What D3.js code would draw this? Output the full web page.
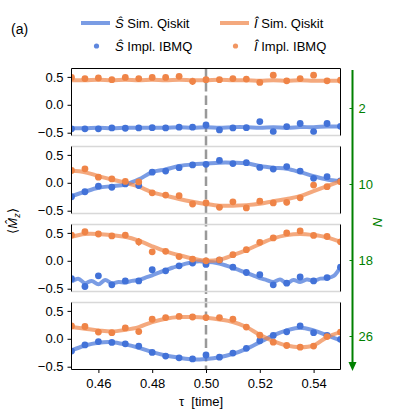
<!DOCTYPE html>
<html>
<head>
<meta charset="utf-8">
<script src="https://cdn.jsdelivr.net/npm/d3@7"></script>
<style>
  body { margin: 0; background: #fff; }
  svg { font-family: "Liberation Sans", Arial, sans-serif; }
</style>
</head>
<body>
<svg id="chart" width="396" height="419"></svg>
<script>
// time grid of the IBMQ points and of the simulation curves
var tauPts = [0.45,0.455,0.46,0.465,0.47,0.475,0.48,0.485,0.49,0.495,0.50,0.505,0.51,0.515,0.52,0.525,0.53,0.535,0.54,0.545,0.55];
var tauFine = [0.45,0.4525,0.455,0.4575,0.46,0.4625,0.465,0.4675,0.47,0.4725,0.475,0.4775,0.48,0.4825,0.485,0.4875,0.49,0.4925,0.495,0.4975,
               0.50,0.5025,0.505,0.5075,0.51,0.5125,0.515,0.5175,0.52,0.5225,0.525,0.5275,0.53,0.5325,0.535,0.5375,0.54,0.5425,0.545,0.5475,0.55];
var xTicks = [0.46,0.48,0.50,0.52,0.54];
var yTicks = [-0.5,0,0.5];
var nLabels = [2,10,18,26];

// N = 2
var simS_N2 = [-0.42,-0.42,-0.41,-0.42,-0.41,-0.41,-0.41,-0.41,-0.40,-0.41,-0.40,-0.41,-0.40,-0.40,-0.41,-0.40,-0.41,-0.40,-0.40,-0.39,-0.39];
var simI_N2 = [0.44,0.44,0.45,0.44,0.45,0.44,0.45,0.44,0.45,0.44,0.44,0.45,0.44,0.44,0.43,0.44,0.43,0.44,0.43,0.43,0.43];
var ibmS_N2 = [-0.43,-0.43,-0.43,-0.415,-0.42,-0.415,-0.41,-0.415,-0.40,-0.40,-0.36,-0.45,-0.415,-0.41,-0.30,-0.48,-0.39,-0.335,-0.48,-0.335,-0.385];
var ibmI_N2 = [0.49,0.47,0.48,0.45,0.49,0.47,0.49,0.49,0.51,0.42,0.45,0.45,0.47,0.46,0.40,0.53,0.43,0.47,0.53,0.43,0.44];
// N = 10
var simS_N10 = [-0.24,-0.16,-0.09,-0.06,-0.03,0.06,0.19,0.24,0.30,0.33,0.345,0.36,0.36,0.35,0.30,0.27,0.25,0.19,0.12,0.06,0.03];
var simI_N10 = [0.22,0.19,0.12,0.06,0.0,-0.07,-0.17,-0.23,-0.29,-0.34,-0.38,-0.41,-0.41,-0.40,-0.375,-0.33,-0.29,-0.24,-0.15,-0.06,0.03];
var ibmS_N10 = [-0.25,-0.16,-0.06,-0.08,-0.02,-0.05,0.19,0.21,0.27,0.32,0.33,0.40,0.345,0.36,0.275,0.245,0.29,0.21,0.08,0.11,0.035];
var ibmI_N10 = [0.22,0.25,0.10,0.07,0.025,0.015,-0.18,-0.22,-0.23,-0.38,-0.36,-0.44,-0.34,-0.45,-0.33,-0.36,-0.35,-0.27,-0.04,-0.07,0.02];
// N = 18
var simS_N18 = [-0.375,-0.32,-0.40,-0.36,-0.42,-0.345,-0.40,-0.38,-0.39,-0.36,-0.345,-0.30,-0.26,-0.21,-0.17,-0.125,-0.09,-0.05,-0.025,-0.01,
                -0.02,-0.025,-0.05,-0.085,-0.125,-0.17,-0.215,-0.26,-0.31,-0.345,-0.38,-0.335,-0.40,-0.345,-0.38,-0.335,-0.36,-0.32,-0.31,-0.27,-0.11];
var simI_N18 = [0.43,0.48,0.48,0.46,0.43,0.36,0.26,0.17,0.10,0.04,0.0,0.02,0.10,0.19,0.30,0.40,0.46,0.48,0.46,0.42,0.34];
var ibmS_N18 = [-0.32,-0.46,-0.27,-0.43,-0.36,-0.36,-0.16,-0.18,-0.09,-0.04,-0.065,0.01,-0.115,-0.21,-0.25,-0.43,-0.40,-0.29,-0.36,-0.30,-0.115];
var ibmI_N18 = [0.46,0.52,0.48,0.445,0.46,0.34,0.16,0.17,0.075,0.03,0.0,0.015,0.11,0.20,0.33,0.41,0.50,0.535,0.455,0.435,0.34];
// N = 26
var simS_N26 = [-0.21,-0.12,-0.07,-0.06,-0.10,-0.16,-0.24,-0.30,-0.34,-0.37,-0.36,-0.33,-0.27,-0.18,-0.06,0.06,0.15,0.20,0.15,0.06,-0.03];
var simI_N26 = [0.21,0.18,0.15,0.13,0.16,0.21,0.30,0.36,0.39,0.39,0.375,0.345,0.30,0.21,0.07,-0.04,-0.12,-0.15,-0.12,0.03,0.12];
var ibmS_N26 = [-0.22,-0.11,-0.05,-0.065,-0.09,-0.13,-0.245,-0.31,-0.34,-0.36,-0.29,-0.33,-0.255,-0.17,-0.035,0.06,0.125,0.23,0.11,0.06,-0.01];
var ibmI_N26 = [0.23,0.22,0.12,0.11,0.195,0.13,0.35,0.38,0.40,0.39,0.38,0.38,0.35,0.21,0.065,-0.06,-0.12,-0.15,-0.13,0.04,0.12];

// the error bars that stick out of the markers: [panel, series, index, error]
var errBars = [[0,'I',9,0.065],[1,'I',16,0.05],[2,'I',5,0.07],[2,'I',19,0.05],[2,'S',2,0.05],[1,'S',11,0.03]];

var panels = [
  {simS: simS_N2,  simI: simI_N2,  ibmS: ibmS_N2,  ibmI: ibmI_N2},
  {simS: simS_N10, simI: simI_N10, ibmS: ibmS_N10, ibmI: ibmI_N10},
  {simS: simS_N18, simI: simI_N18, ibmS: ibmS_N18, ibmI: ibmI_N18},
  {simS: simS_N26, simI: simI_N26, ibmS: ibmS_N26, ibmI: ibmI_N26}
];

var blue = '#4272d8';
var orange = '#ef8447';
var panelH = 67;
var panelStep = 78;
var firstTop = 68.5;
var lastBottom = firstTop + 3 * panelStep + panelH;

var svg = d3.select('#chart');

var x = d3.scaleLinear()
    .domain([0.45, 0.55])
    .range([71.5, 340.5]);

// dashed line at tau = 0.5 through all panels
svg.append('line')
    .attr('x1', x(0.5)).attr('x2', x(0.5))
    .attr('y1', firstTop).attr('y2', lastBottom)
    .attr('stroke', '#999')
    .attr('stroke-width', 2.5)
    .attr('stroke-dasharray', '9.5,4');

panels.forEach(function(p, k){
    var top = firstTop + k * panelStep;
    var y = d3.scaleLinear()
        .domain([-0.55, 0.65])
        .range([top + panelH, top]);

    svg.append('clipPath').attr('id', 'clip' + k)
        .append('rect')
        .attr('x', x.range()[0]).attr('y', top)
        .attr('width', x.range()[1] - x.range()[0]).attr('height', panelH);

    var g = svg.append('g').attr('clip-path', 'url(#clip' + k + ')');

    var line = d3.line()
        .x(function(d){ return x(d[0]) })
        .y(function(d){ return y(d[1]) })
        .curve(d3.curveCatmullRom);

    function pairs(arr){
        var taus = arr.length == tauFine.length ? tauFine : tauPts;
        return arr.map(function(v, i){ return [taus[i], v] });
    }

    [[p.simS, blue], [p.simI, orange]].forEach(function(s){
        g.append('path')
            .datum(pairs(s[0]))
            .attr('d', line)
            .attr('fill', 'none')
            .attr('stroke', s[1])
            .attr('stroke-opacity', 0.7)
            .attr('stroke-width', 4)
            .attr('stroke-linejoin', 'round');
    });

    // error bars
    errBars.filter(function(e){ return e[0] == k }).forEach(function(e){
        var v = e[1] == 'S' ? p.ibmS[e[2]] : p.ibmI[e[2]];
        g.append('line')
            .attr('x1', x(tauPts[e[2]])).attr('x2', x(tauPts[e[2]]))
            .attr('y1', y(v - e[3])).attr('y2', y(v + e[3]))
            .attr('stroke', e[1] == 'S' ? blue : orange)
            .attr('stroke-width', 1.5);
    });

    [[p.ibmS, blue], [p.ibmI, orange]].forEach(function(s){
        g.append('g').selectAll('circle')
            .data(s[0])
            .enter()
            .append('circle')
            .attr('cx', function(d, i){ return x(tauPts[i]) })
            .attr('cy', function(d){ return y(d) })
            .attr('r', 3.4)
            .attr('fill', s[1]);
    });

    // frame: black sides, light grey top/bottom between panels
    var x0 = x.range()[0], x1 = x.range()[1];
    svg.append('line').attr('x1', x0).attr('x2', x1).attr('y1', top).attr('y2', top)
        .attr('stroke', k == 0 ? '#000' : '#d8d8d8').attr('stroke-width', k == 0 ? 1 : 1.5);
    svg.append('line').attr('x1', x0).attr('x2', x1).attr('y1', top + panelH).attr('y2', top + panelH)
        .attr('stroke', k == 3 ? '#000' : '#d8d8d8').attr('stroke-width', k == 3 ? 1 : 1.5);
    [x0, x1].forEach(function(xx){
        svg.append('line').attr('x1', xx).attr('x2', xx).attr('y1', top).attr('y2', top + panelH)
            .attr('stroke', '#000').attr('stroke-width', 1);
    });

    var yAxis = svg.append('g')
        .attr('transform', 'translate(' + x0 + ',0)')
        .call(d3.axisLeft(y).tickValues(yTicks).tickFormat(d3.format('.1f')).tickSize(4).tickPadding(4));
    yAxis.select('.domain').remove();
    yAxis.selectAll('text').attr('font-size', 13).attr('font-family', null).attr('fill', '#000');
});

// x axis on the bottom panel
var xAxis = svg.append('g')
    .attr('transform', 'translate(0,' + lastBottom + ')')
    .call(d3.axisBottom(x).tickValues(xTicks).tickFormat(d3.format('.2f')).tickSize(3.5).tickPadding(6));
xAxis.select('.domain').remove();
xAxis.selectAll('text').attr('font-size', 13).attr('font-family', null).attr('fill', '#000');

svg.append('text')
    .attr('x', 201).attr('y', 406)
    .attr('text-anchor', 'middle')
    .attr('font-size', 13)
    .text('\u03c4\u00a0\u00a0[time]');

// y label
var yl = svg.append('text')
    .attr('transform', 'translate(17,221) rotate(-90)')
    .attr('text-anchor', 'middle')
    .attr('font-size', 13);
yl.append('tspan').text('\u27e8');
yl.append('tspan').attr('font-style', 'italic').text('M\u0302');
yl.append('tspan').attr('font-style', 'italic').attr('font-size', 9).attr('dy', 3).text('z');
yl.append('tspan').attr('dy', -3).text('\u27e9');

// panel label
svg.append('text')
    .attr('x', 11).attr('y', 34)
    .attr('font-size', 14)
    .text('(a)');

// N axis on the right
var nScale = d3.scaleLinear()
    .domain([2, 26])
    .range([108, 336]);
var nAxis = svg.append('g')
    .attr('transform', 'translate(352.5,0)')
    .call(d3.axisRight(nScale).tickValues(nLabels).tickSize(-3).tickPadding(6));
nAxis.select('.domain').remove();
nAxis.selectAll('line').attr('stroke', 'green');
nAxis.selectAll('text').attr('font-size', 13).attr('font-family', null).attr('fill', 'green');

svg.append('line')
    .attr('x1', 352.5).attr('x2', 352.5)
    .attr('y1', 70).attr('y2', 364)
    .attr('stroke', 'green')
    .attr('stroke-width', 2);
svg.append('path')
    .attr('d', 'M348.5,362 L356.5,362 L352.5,371 Z')
    .attr('fill', 'green');
svg.append('text')
    .attr('transform', 'translate(378,222) rotate(90)')
    .attr('text-anchor', 'middle')
    .attr('dy', '0.35em')
    .attr('font-size', 13)
    .attr('font-style', 'italic')
    .attr('fill', 'green')
    .text('N');

// legend
var legend = [
    {kind: 'line', color: blue,   sym: '\u015c', label: ' Sim. Qiskit', x: 81,  y: 23},
    {kind: 'line', color: orange, sym: '\u00ce', label: ' Sim. Qiskit', x: 220, y: 23},
    {kind: 'dot',  color: blue,   sym: '\u015c', label: ' Impl. IBMQ',  x: 81,  y: 46},
    {kind: 'dot',  color: orange, sym: '\u00ce', label: ' Impl. IBMQ',  x: 220, y: 46}
];
legend.forEach(function(l){
    if(l.kind == 'line'){
        svg.append('line')
            .attr('x1', l.x).attr('x2', l.x + 29)
            .attr('y1', l.y).attr('y2', l.y)
            .attr('stroke', l.color).attr('stroke-opacity', 0.7).attr('stroke-width', 4);
    } else {
        svg.append('circle')
            .attr('cx', l.x + 15.5).attr('cy', l.y)
            .attr('r', 2.6).attr('fill', l.color).attr('fill-opacity', 0.85);
    }
    var t = svg.append('text')
        .attr('x', l.x + 34).attr('y', l.y + 5)
        .attr('font-size', 13);
    t.append('tspan').attr('font-style', 'italic').text(l.sym);
    t.append('tspan').text(l.label);
});
</script>
</body>
</html>
